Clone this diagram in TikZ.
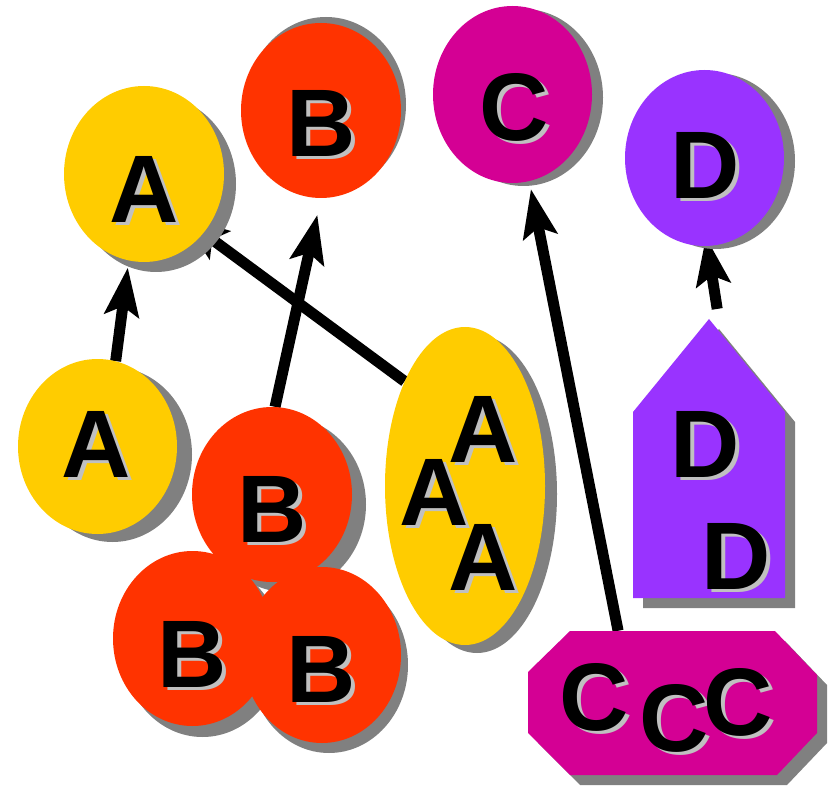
\documentclass[tikz,border=0pt]{standalone}
\usepackage{fontspec}
\setmainfont{Liberation Sans}
\usetikzlibrary{arrows.meta,shapes.geometric,shadows,calc}
\definecolor{cyel}{HTML}{FFCC00}
\definecolor{cred}{HTML}{FF3300}
\definecolor{cmag}{HTML}{D40094}
\definecolor{cpur}{HTML}{9933FF}
\definecolor{shgray}{HTML}{808080}
\definecolor{txgray}{HTML}{C0C0C0}
\newcommand\shtext[1]{\makebox[0pt][l]{\hspace{4pt}\raisebox{-3pt}{\textcolor{txgray}{#1}}}#1}
\pgfdeclarelayer{bg}
\pgfsetlayers{bg,main}
\begin{document}
\begin{tikzpicture}[x=1pt,y=-1pt,
  blob/.style={ellipse, inner sep=0pt, draw=none},
  shad/.style 2 args={drop shadow={shadow xshift=#1pt, shadow yshift=#2pt, fill=shgray, opacity=1}},
  lbl/.style={anchor=base, inner sep=0pt, font=\fontsize{96}{96}\selectfont\bfseries},
  conn/.style={draw=black, line width=11pt, -{Stealth[length=48pt,width=34pt,inset=9pt]}},
  holder/.style={inner sep=0pt, draw=none}
]
\useasboundingbox (0,0) rectangle (838,786);

% shapes
\node[blob, minimum width=160pt, minimum height=176pt, fill=cyel, shad={12}{-10}] (atop) at (144,174) {};
\node[blob, minimum width=160pt, minimum height=175pt, fill=cred, shad={5}{6}] (btop) at (321,110.5) {};
\node[blob, minimum width=159pt, minimum height=177pt, fill=cmag, shad={11}{-3}] (ctop) at (512.5,94.5) {};
\node[blob, minimum width=159pt, minimum height=176pt, fill=cpur, shad={11}{-3}] (dtop) at (704.5,158) {};
\node[blob, minimum width=159pt, minimum height=175pt, fill=cyel, shad={15}{-8}] (abot) at (97.5,446.5) {};
\node[blob, minimum width=160pt, minimum height=318pt, fill=cyel, shad={12}{-8}] (aaa) at (465,486) {};
\node[blob, minimum width=160pt, minimum height=175pt, fill=cred, shad={14}{-10}] (bc1) at (272,494.5) {};
\node[blob, minimum width=159pt, minimum height=175pt, fill=cred, shad={10}{-11}] (bc2) at (192.5,638.5) {};
\node[blob, minimum width=158pt, minimum height=176pt, fill=cred, shad={7}{-10}] (bc3) at (322,655) {};

\node[holder, minimum width=152pt, minimum height=279pt] (dhouse) at (709,458.5) {};
\fill[cpur, shad={10}{-10}] (633,412) -- (709,319) -- (785,412) -- (785,598) -- (633,598) -- cycle;

\node[holder, minimum width=289pt, minimum height=144pt] (ccc) at (672.5,703) {};
\fill[cmag, shad={10}{-10}] (570,631) -- (775,631) -- (817,675) -- (817,733) -- (777,775) -- (570,775) -- (528,733) -- (528,672) -- cycle;

% connectors behind the shapes
\begin{pgfonlayer}{bg}
\path[conn, shorten >=7pt] (abot.78) -- (atop.-100.4);
\path[conn, shorten >=17pt] (bc1.88.5) -- (btop.-90.5);
\path[conn] (aaa.120.8) -- ($(atop.center)!56pt!(atop.-49.4)$);
\path[conn, shorten >=8pt] (ccc.127.1) -- (ctop.-79.5);
\path[conn, shorten <=10pt] (dhouse.86.5) -- ($(dtop.center)!79pt!(dtop.-89.4)$);
\end{pgfonlayer}

% labels
\node[lbl] (tatop) at (144,223) {\shtext{A}};
\node[lbl] (tbtop) at (321,157) {\shtext{B}};
\node[lbl] (tctop) at (514,141) {\shtext{C}};
\node[lbl] (tdtop) at (705,199) {\shtext{D}};
\node[lbl] (tabot) at (96,477) {\shtext{A}};
\node[lbl] (tbc1) at (272,542) {\shtext{B}};
\node[lbl] (tbc2) at (192,687) {\shtext{B}};
\node[lbl] (tbc3) at (321,702) {\shtext{B}};
\node[lbl] (taaa1) at (483,462) {\shtext{A}};
\node[lbl] (taaa2) at (434,525) {\shtext{A}};
\node[lbl] (taaa3) at (483,590) {\shtext{A}};
\node[lbl] (td1) at (705,477) {\shtext{D}};
\node[lbl] (td2) at (736,589) {\shtext{D}};
\node[lbl] (tc1) at (594,730) {\shtext{C}};
\node[lbl] (tc2) at (674,751) {\shtext{C}};
\node[lbl] (tc3) at (738,735) {\shtext{C}};
\end{tikzpicture}
\end{document}
